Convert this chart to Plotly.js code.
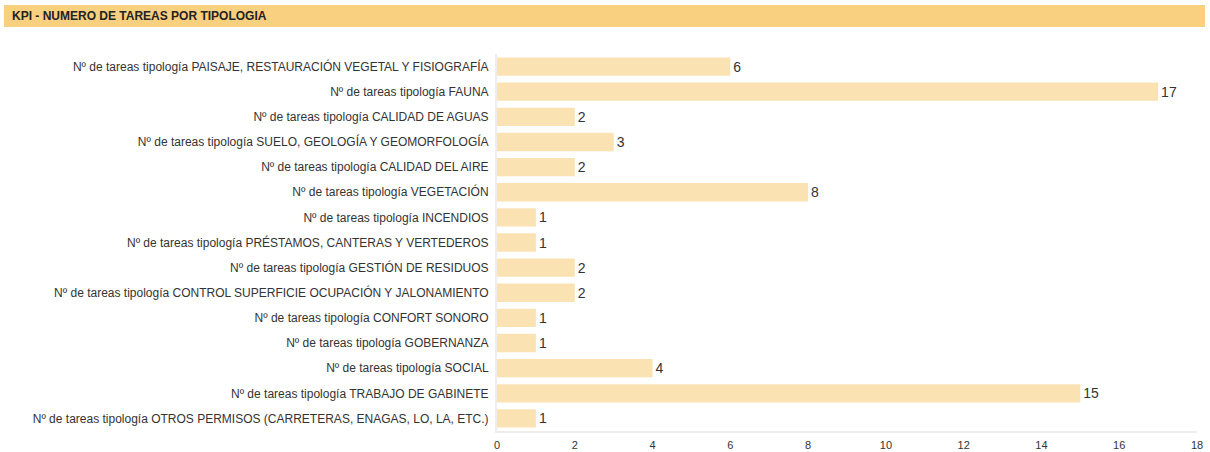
<!DOCTYPE html>
<html>
<head>
<meta charset="utf-8">
<script src="https://cdn.plot.ly/plotly-3.0.1.min.js"></script>
<style>
html,body{margin:0;padding:0;background:#fff;}
#chart{width:1210px;height:452px;}
</style>
</head>
<body>
<div id="chart"></div>
<script>
const categories = [
  "Nº de tareas tipología PAISAJE, RESTAURACIÓN VEGETAL Y FISIOGRAFÍA",
  "Nº de tareas tipología FAUNA",
  "Nº de tareas tipología CALIDAD DE AGUAS",
  "Nº de tareas tipología SUELO, GEOLOGÍA Y GEOMORFOLOGÍA",
  "Nº de tareas tipología CALIDAD DEL AIRE",
  "Nº de tareas tipología VEGETACIÓN",
  "Nº de tareas tipología INCENDIOS",
  "Nº de tareas tipología PRÉSTAMOS, CANTERAS Y VERTEDEROS",
  "Nº de tareas tipología GESTIÓN DE RESIDUOS",
  "Nº de tareas tipología CONTROL SUPERFICIE OCUPACIÓN Y JALONAMIENTO",
  "Nº de tareas tipología CONFORT SONORO",
  "Nº de tareas tipología GOBERNANZA",
  "Nº de tareas tipología SOCIAL",
  "Nº de tareas tipología TRABAJO DE GABINETE",
  "Nº de tareas tipología OTROS PERMISOS (CARRETERAS, ENAGAS, LO, LA, ETC.)"
];
const values = [6, 17, 2, 3, 2, 8, 1, 1, 2, 2, 1, 1, 4, 15, 1];
const xTicks = [0, 2, 4, 6, 8, 10, 12, 14, 16, 18];
const chartTitle = "KPI - NUMERO DE TAREAS POR TIPOLOGIA";

const W = 1210, H = 452;
const mL = 497, mR = 13, mT = 54, mB = 21;
const pw = W - mL - mR, ph = H - mT - mB;
function px2x(p){ return (p - mL) / pw; }
function py2y(p){ return (H - mB - p) / ph; }
const FONT = 'Liberation Sans, Arial, sans-serif';

const trace = {
  type: 'bar',
  orientation: 'h',
  y: categories,
  x: values,
  text: values.map(String),
  textposition: 'outside',
  cliponaxis: false,
  textfont: {family: FONT, size: 14, color: '#333'},
  marker: {color: '#fbe2b2', line: {width: 0}},
  hoverinfo: 'x+y'
};

const layout = {
  width: W, height: H,
  margin: {l: mL, r: mR, t: mT, b: mB},
  paper_bgcolor: '#fff',
  plot_bgcolor: '#fff',
  bargap: 0.27,
  showlegend: false,
  font: {family: FONT, color: '#333'},
  title: {
    text: '<b>' + chartTitle + '</b>',
    font: {family: FONT, size: 12, color: '#222'},
    xref: 'container', yref: 'container',
    x: 12 / W, xanchor: 'left',
    y: 1 - 16 / H, yanchor: 'middle'
  },
  shapes: [{
    type: 'rect', xref: 'paper', yref: 'paper', layer: 'below',
    x0: px2x(4), x1: px2x(1205), y0: py2y(27), y1: py2y(5),
    fillcolor: '#f9cf80', line: {width: 0}
  }],
  xaxis: {
    range: [0, 18],
    tickvals: xTicks,
    ticktext: xTicks.map(String),
    showgrid: false,
    zeroline: false,
    showline: true,
    linecolor: '#eeeeee',
    linewidth: 2,
    ticks: '',
    ticklabelstandoff: 3,
    tickfont: {family: FONT, size: 11, color: '#333'},
    fixedrange: true
  },
  yaxis: {
    autorange: 'reversed',
    type: 'category',
    showgrid: false,
    zeroline: false,
    showline: true,
    linecolor: '#eeeeee',
    linewidth: 2,
    ticks: '',
    ticklabelstandoff: 4,
    tickfont: {family: FONT, size: 12, color: '#333'},
    fixedrange: true
  }
};

Plotly.newPlot('chart', [trace], layout, {displayModeBar: false});
</script>
</body>
</html>
